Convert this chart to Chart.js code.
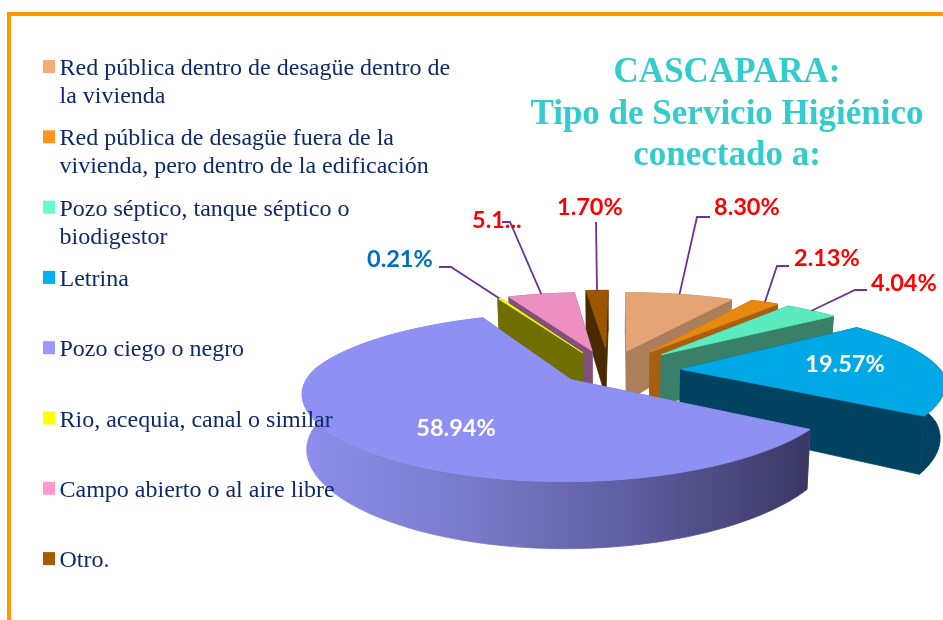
<!DOCTYPE html>
<html lang="es">
<head>
<meta charset="utf-8">
<title>CASCAPARA: Tipo de Servicio Higiénico conectado a:</title>
<script src="https://cdn.jsdelivr.net/npm/chart.js@4"></script>
<style>
html,body{margin:0;padding:0;background:#fff;overflow:hidden}
#wrap{position:relative;width:943px;height:620px}
#frame{position:absolute;left:7px;top:12px;width:932px;height:604px;border-left:4px solid #FF9900;border-top:4px solid #FF9900}
canvas{position:absolute;left:0;top:0}
</style>
</head>
<body>
<div id="wrap"><div id="frame"></div><canvas id="c" width="943" height="620"></canvas></div>
<script>
const categories = [
  ["Red pública dentro de desagüe dentro de", "la vivienda"],
  ["Red pública de desagüe fuera de la", "vivienda, pero dentro de la edificación"],
  ["Pozo séptico, tanque séptico o", "biodigestor"],
  ["Letrina"],
  ["Pozo ciego o negro"],
  ["Rio, acequia, canal o similar"],
  ["Campo abierto o al aire libre"],
  ["Otro."]
];
const values = [8.30, 2.13, 4.04, 19.57, 58.94, 0.21, 5.11, 1.70];
const valueLabels = ["8.30%", "2.13%", "4.04%", "19.57%", "58.94%", "0.21%", "5.1...", "1.70%"];
const titleLines = ["CASCAPARA:", "Tipo de Servicio Higiénico", "conectado a:"];
const legendColors = ["#F5AC7B", "#FF9320", "#66FFCC", "#00B0F0", "#9999FF", "#FFFF00", "#FF99CC", "#A65B00"];
const topColors = ["#E5A476", "#E8890F", "#5CEBBF", "#00A8E6", "#8F90F3", "#FFFF00", "#EE8FC3", "#9A5700"];
const wallColors = ["#AB7F5C", "#A85F10", "#3A8068", "#00425F", "#6A6AB0", "#6F6F00", "#80507A", "#4A2A00"];
const explode = [58, 64, 64, 60, 41, 56, 58, 66];

// --- look of the 3D projection ---
const VIEW = {scale: 260, squash: 77, perspBack: 0.2, perspFront: 0.15, perspY: 0.2, height: 52, taper: 0.985};
const PAINT_ORDER = [7, 6, 5, 0, 1, 2, 3, 4];
const LABELS = [
  {pts: [[697,217],[710,217]], x: 714, y: 207, color: "#FF0000"},
  {pts: [[777,266],[789,266]], x: 794, y: 258, color: "#FF0000"},
  {pts: [[855,290],[867,290]], x: 871, y: 283, color: "#FF0000"},
  {inside: true, x: 845, y: 364, color: "#FFFFFF"},
  {inside: true, x: 456, y: 428, color: "#FFFFFF"},
  {pts: [[451,267],[439,267]], x: 367, y: 259, color: "#0070C0"},
  {pts: [[510,222],[502,222]], x: 472, y: 220, color: "#FF0000"},
  {pts: [[596,222]], x: 557, y: 207, color: "#FF0000"}
];

function projector(arc) {
  const R = arc.outerRadius, off = arc.options.offset || 0;
  const mid = (arc.startAngle + arc.endAngle) / 2;
  return function (angle, radius, down) {
    const u = (off * Math.cos(mid) + radius * R * Math.cos(angle)) / R;
    const v = (off * Math.sin(mid) + radius * R * Math.sin(angle)) / R;
    const wx = 1 - (v < 0 ? VIEW.perspBack : VIEW.perspFront) * v, wy = 1 - VIEW.perspY * v;
    let x = arc.x + VIEW.scale * u / wx;
    let y = arc.y + VIEW.squash * v / wy;
    if (down) { x = arc.x + (x - arc.x) * VIEW.taper; y += VIEW.height / wy; }
    return [x, y];
  };
}
function poly(ctx, pts, fill) {
  ctx.beginPath();
  pts.forEach((p, i) => i ? ctx.lineTo(p[0], p[1]) : ctx.moveTo(p[0], p[1]));
  ctx.closePath();
  ctx.fillStyle = fill; ctx.fill();
  ctx.strokeStyle = fill; ctx.lineWidth = 0.8; ctx.stroke();
}
const pie3d = {
  id: "pie3d",
  beforeDatasetsDraw(chart) {
    const ctx = chart.ctx, arcs = chart.getDatasetMeta(0).data;
    PAINT_ORDER.forEach(i => {
      const a = arcs[i], P = projector(a);
      const rim = [], n = Math.max(2, Math.ceil((a.endAngle - a.startAngle) * 60));
      for (let k = 0; k <= n; k++) rim.push(a.startAngle + (a.endAngle - a.startAngle) * k / n);
      let wall = wallColors[i];
      if (i === 4) {
        const g = ctx.createLinearGradient(303, 0, 807, 0);
        g.addColorStop(0, "#8E8EEC"); g.addColorStop(0.33, "#7A7ACA");
        g.addColorStop(0.66, "#5E5C9E"); g.addColorStop(1, "#3A3862");
        wall = g;
      }
      [a.startAngle, a.endAngle].forEach(t => poly(ctx, [P(t,0,false), P(t,1,false), P(t,1,true), P(t,0,true)], wallColors[i]));
      poly(ctx, rim.map(t => P(t,1,false)).concat(rim.slice().reverse().map(t => P(t,1,true))), wall);
      poly(ctx, [P(a.startAngle,0,false)].concat(rim.map(t => P(t,1,false))), topColors[i]);
    });
    return false;
  },
  afterDraw(chart) {
    const ctx = chart.ctx, arcs = chart.getDatasetMeta(0).data;
    ctx.save();
    ctx.fillStyle = "#33CCCC"; ctx.textAlign = "center"; ctx.textBaseline = "alphabetic";
    ctx.font = "bold 35px 'Liberation Serif'";
    titleLines.forEach((t, i) => ctx.fillText(t, 727, 82 + i * 41.5));
    ctx.textAlign = "left";
    categories.forEach((lines, i) => {
      const base = 75 + i * 70.3;
      ctx.fillStyle = legendColors[i];
      ctx.fillRect(43, base - 15, 12, 13);
      ctx.fillStyle = "#10296A"; ctx.font = "24px 'Liberation Serif'";
      lines.forEach((t, j) => ctx.fillText(t, 59.5, base + j * 28));
    });
    ctx.font = "bold 23.5px Lato"; ctx.textBaseline = "middle";
    LABELS.forEach((l, i) => {
      if (l.inside) {
        ctx.textAlign = "center"; ctx.fillStyle = l.color;
        ctx.fillText(valueLabels[i], l.x, l.y);
        return;
      }
      const a = arcs[i], P = projector(a), start = P((a.startAngle + a.endAngle) / 2, 1, false);
      ctx.beginPath(); ctx.moveTo(start[0], start[1]);
      l.pts.forEach(p => ctx.lineTo(p[0], p[1]));
      ctx.strokeStyle = "#7030A0"; ctx.lineWidth = 1.8; ctx.stroke();
      ctx.textAlign = "left"; ctx.fillStyle = l.color;
      ctx.fillText(valueLabels[i], l.x, l.y);
    });
    ctx.restore();
  }
};
new Chart(document.getElementById("c"), {
  type: "pie",
  data: {
    labels: categories,
    datasets: [{data: values, backgroundColor: topColors, borderWidth: 0, offset: explode}]
  },
  options: {
    responsive: false,
    animation: false,
    rotation: 0.5,
    layout: {padding: {left: 275, right: 0, top: 120, bottom: 0}},
    plugins: {legend: {display: false}, tooltip: {enabled: false}, title: {display: false}}
  },
  plugins: [pie3d]
});
</script>
</body>
</html>
